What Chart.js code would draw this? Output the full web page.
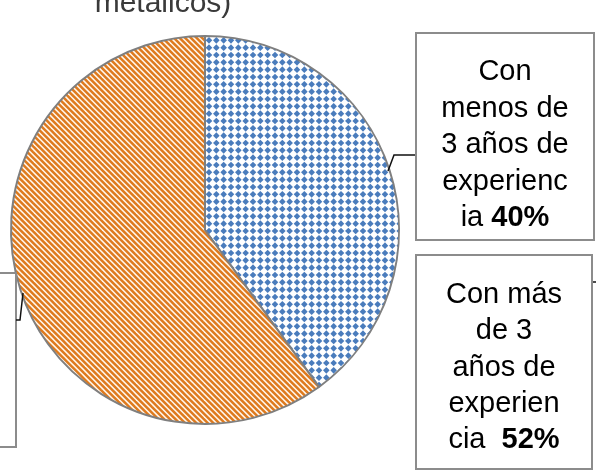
<!DOCTYPE html>
<html>
<head>
<meta charset="utf-8">
<script src="https://cdn.jsdelivr.net/npm/chart.js@4.4.1/dist/chart.umd.min.js"></script>
<style>
html,body{margin:0;padding:0;background:#fff;}
#wrap{position:relative;width:596px;height:470px;}
</style>
</head>
<body>
<div id="wrap"><canvas id="c" width="596" height="470"></canvas></div>
<script>
const categories = ['Con menos de 3 años de experiencia', 'Con más de 3 años de experiencia'];
const values = [40, 60];
const titleText = 'metálicos)';
const label1Lines = [['Con'], ['menos de'], ['3 años de'], ['experienc'], ['ia ', '40%']];
const label2Lines = [['Con más'], ['de 3'], ['años de'], ['experien'], ['cia  ', '52%']];

function makeDots() {
  const c = document.createElement('canvas');
  const n = 22; c.width = n; c.height = n;
  const x = c.getContext('2d');
  x.fillStyle = '#ffffff'; x.fillRect(0, 0, n, n);
  x.fillStyle = '#4a7cbc';
  const s = n / 3, r = 3.3;
  for (let i = 0; i < 3; i++) for (let j = 0; j < 3; j++) {
    const cx = s * i + s / 2, cy = s * j + s / 2;
    x.beginPath();
    x.moveTo(cx, cy - r); x.lineTo(cx + r, cy); x.lineTo(cx, cy + r); x.lineTo(cx - r, cy);
    x.closePath(); x.fill();
  }
  return x.createPattern(c, 'repeat');
}
function makeStripes() {
  const c = document.createElement('canvas');
  const n = 17; c.width = n; c.height = n;
  const x = c.getContext('2d');
  x.fillStyle = '#fff8ef'; x.fillRect(0, 0, n, n);
  x.strokeStyle = '#de7a1e'; x.lineWidth = 2.5;
  const p = n / 3;
  for (let k = -6; k <= 6; k++) {
    const c0 = k * p;
    x.beginPath(); x.moveTo(-2, -2 + c0); x.lineTo(n + 2, n + 2 + c0); x.stroke();
  }
  return x.createPattern(c, 'repeat');
}

const ctx = document.getElementById('c').getContext('2d');

const deco = {
  id: 'deco',
  afterDraw(chart) {
    const g = chart.ctx;
    g.save();
    g.fillStyle = '#3a3a3a';
    g.font = '30px "Liberation Sans", Arial, sans-serif';
    g.textAlign = 'center'; g.textBaseline = 'alphabetic';
    g.fillText(titleText, 163, 12);
    g.strokeStyle = '#8c8c8c'; g.lineWidth = 2;
    g.fillStyle = '#ffffff';
    const boxes = [[416, 33, 178, 207], [416, 255, 176, 214], [-2, 273, 18, 174]];
    boxes.forEach(b => { g.fillRect(b[0], b[1], b[2], b[3]); g.strokeRect(b[0], b[1], b[2], b[3]); });
    g.strokeStyle = '#111'; g.lineWidth = 1.5;
    g.beginPath(); g.moveTo(415, 155); g.lineTo(394, 155); g.lineTo(388, 171); g.stroke();
    g.beginPath(); g.moveTo(16, 320); g.lineTo(20, 320); g.lineTo(23, 293); g.stroke();
    g.beginPath(); g.moveTo(593, 282); g.lineTo(596, 282); g.stroke();
    function drawLines(lines, cx, y0, dy) {
      lines.forEach((parts, i) => {
        const y = y0 + i * dy;
        const fonts = parts.map((p, k) => (k === 1 ? 'bold ' : '') + '29px "Liberation Sans", Arial, sans-serif');
        let widths = parts.map((p, k) => { g.font = fonts[k]; return g.measureText(p).width; });
        let total = widths.reduce((a, b) => a + b, 0);
        let x = cx - total / 2;
        g.textAlign = 'left'; g.fillStyle = '#000';
        parts.forEach((p, k) => { g.font = fonts[k]; g.fillText(p, x, y); x += widths[k]; });
      });
    }
    drawLines(label1Lines, 505, 80, 36.6);
    drawLines(label2Lines, 504, 303, 36.3);
    g.restore();
  }
};

new Chart(ctx, {
  type: 'pie',
  data: {
    labels: categories,
    datasets: [{
      data: values,
      backgroundColor: [makeDots(), makeStripes()],
      borderColor: '#7f7f7f',
      borderWidth: 2
    }]
  },
  options: {
    responsive: false,
    animation: false,
    layout: { padding: { left: 10, right: 196, top: 35, bottom: 45 } },
    plugins: { legend: { display: false }, tooltip: { enabled: false } }
  },
  plugins: [deco]
});
</script>
</body>
</html>
